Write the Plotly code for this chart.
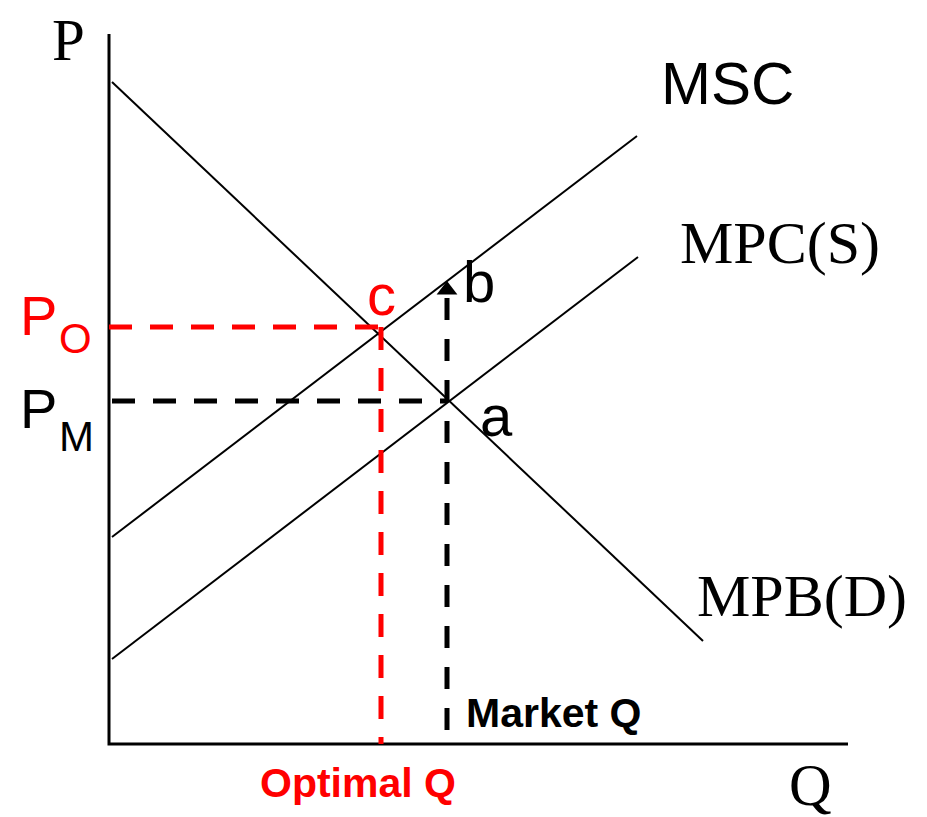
import plotly.graph_objects as go

# Coordinates in chart units: Q = quantity, P = price (origin at axes corner)
q_axis_end = 739
p_axis_end = 710

demand_q = [3, 594]
demand_p = [662, 103]
msc_q = [3, 528]
msc_p = [207, 608]
mpc_q = [3, 529]
mpc_p = [85, 487]

q_optimal = 272
p_optimal = 417
q_market = 338
p_market = 343
p_b = 446

SERIF = "Liberation Serif"
SANS = "Liberation Sans"

fig = go.Figure()

# axes
fig.add_trace(go.Scatter(x=[0, 0, q_axis_end], y=[p_axis_end, 0, 0], mode="lines",
                         line=dict(color="black", width=3), hoverinfo="skip"))
# curves
for qx, py in [(demand_q, demand_p), (msc_q, msc_p), (mpc_q, mpc_p)]:
    fig.add_trace(go.Scatter(x=qx, y=py, mode="lines",
                             line=dict(color="black", width=2), hoverinfo="skip"))

# dashed guides
fig.add_trace(go.Scatter(x=[0, q_optimal], y=[p_optimal, p_optimal], mode="lines",
                         line=dict(color="#ff0000", width=5, dash="23px,18px"), hoverinfo="skip"))
fig.add_trace(go.Scatter(x=[q_optimal, q_optimal], y=[p_optimal, 0], mode="lines",
                         line=dict(color="#ff0000", width=5, dash="23px,18px"), hoverinfo="skip"))
fig.add_trace(go.Scatter(x=[3, q_market], y=[p_market, p_market], mode="lines",
                         line=dict(color="black", width=5, dash="23px,18px"), hoverinfo="skip"))
fig.add_trace(go.Scatter(x=[q_market, q_market], y=[p_b, 0], mode="lines",
                         line=dict(color="black", width=5, dash="22px,19px"), hoverinfo="skip"))
fig.add_trace(go.Scatter(x=[q_market], y=[p_b + 8], mode="markers",
                         marker=dict(symbol="triangle-up", size=18, color="black"), hoverinfo="skip"))

ann = []
def label(x, y, text, size, color="black", family=SANS, bold=False):
    t = f"<b>{text}</b>" if bold else text
    ann.append(dict(x=x, y=y, xref="x", yref="y", text=t, showarrow=False,
                    xanchor="center", yanchor="middle",
                    font=dict(family=family, size=size, color=color)))

label(-41, 704, "P", 59, family=SERIF)
label(701, -41, "Q", 59, family=SERIF)
label(618, 661, "MSC", 60)
label(671, 501, "MPC(S)", 60, family=SERIF)
label(693, 148, "MPB(D)", 60, family=SERIF)
label(-71, 429, "P", 56, color="#ff0000")
label(-34, 406, "O", 42, color="#ff0000")
label(-71, 336, "P", 56)
label(-33, 308, "M", 42)
label(272, 450, "c", 58, color="#ff0000")
label(370, 463, "b", 58)
label(387, 329, "a", 58)
label(444, 31, "Market Q", 41, bold=True)
label(249, -39, "Optimal Q", 41, color="#ff0000", bold=True)

fig.update_layout(
    width=927, height=817,
    margin=dict(l=0, r=0, t=0, b=0),
    paper_bgcolor="white", plot_bgcolor="white",
    showlegend=False,
    xaxis=dict(range=[-101, 826], visible=False, fixedrange=True),
    yaxis=dict(range=[-81, 736], visible=False, fixedrange=True),
    annotations=ann,
)

fig.write_html("out.html")
